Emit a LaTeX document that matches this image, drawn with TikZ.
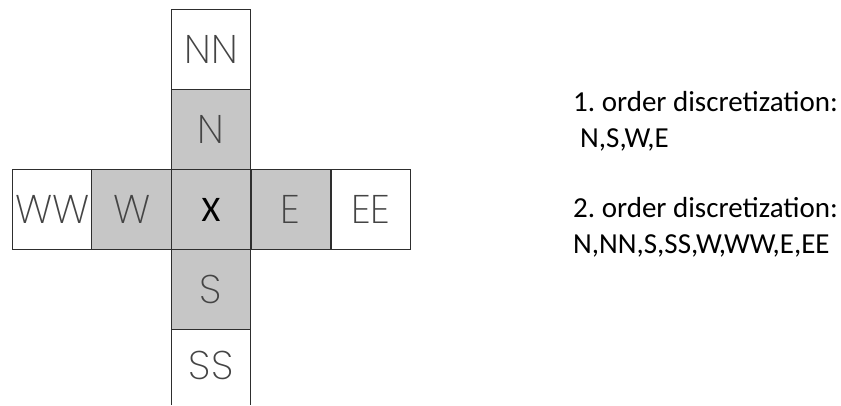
\documentclass[tikz,border=0pt]{standalone}
\usepackage{fontspec}
\setmainfont{Carlito}
\newfontfamily\cellfont{Poppins ExtraLight}
\definecolor{cellgray}{HTML}{C6C6C6}
\definecolor{cellline}{HTML}{2E2E2E}
\definecolor{lettergray}{HTML}{444444}
\frenchspacing
\begin{document}
\begin{tikzpicture}[x=1pt,y=1pt,
  cellbox/.style={draw=cellline,line width=1pt,minimum width=79.5pt,minimum height=80pt,inner sep=0pt,outer sep=0pt},
  inner/.style={cellbox,fill=cellgray},
  outer/.style={cellbox,fill=white},
  lbl/.style={font=\cellfont\fontsize{40}{40}\selectfont,text=lettergray},
  note/.style={anchor=base west,font=\fontsize{29}{29}\selectfont,inner sep=0pt}]
\useasboundingbox (0,0) rectangle (841,405);
% cells (centres at y = 405 - px)
\node[outer] (NN) at (211,355.5) {};
\node[inner] (N)  at (211,275.5) {};
\node[inner] (X)  at (211,195.5) {};
\node[inner] (S)  at (211,115.5) {};
\node[inner] (W)  at (131.7,195.5) {};
\node[outer] (WW) at (52.2,195.5) {};
\node[inner] (E)  at (290.8,195.5) {};
\node[outer] (EE) at (370.8,195.5) {};
% SS: open at the bottom edge
\fill[white] (171.5,0) rectangle (250.5,75.5);
\draw[cellline,line width=1pt] (171.5,0) -- (171.5,75.5) -- (250.5,75.5) -- (250.5,0);
\coordinate (SS) at (211,40);
% labels
\node[lbl] at (NN) {NN};
\node[lbl] at (N) {N};
\node[lbl] at (S) {S};
\node[lbl] at (SS) {SS};
\node[lbl] at (W) {W};
\node[lbl] at (WW) {WW};
\node[lbl] at (E) {E};
\node[lbl] at (EE) {EE};
\node[font=\fontsize{36}{36}\selectfont] at (X) {X};
% notes
\node[note] (n1) at (573,293) {1. order discretization:};
\node[note] (n2) at (580,257) {N,S,W,E};
\node[note] (n3) at (573,187) {2. order discretization:};
\node[note] (n4) at (573,152) {N,NN,S,SS,W,WW,E,EE};
\end{tikzpicture}
\end{document}
